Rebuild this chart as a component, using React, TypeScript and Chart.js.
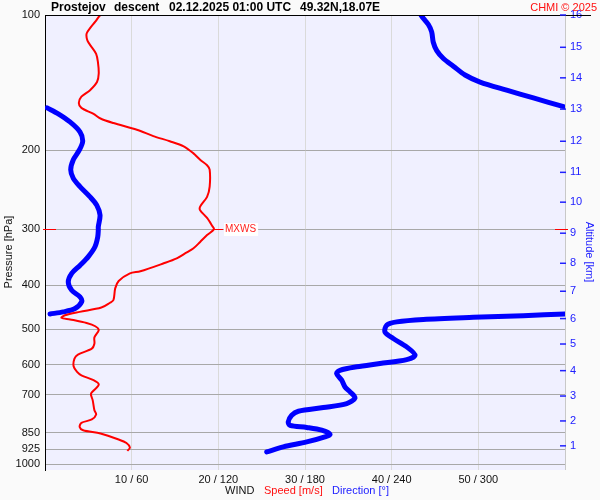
import { useEffect, useRef } from 'react';
import { Chart, registerables } from 'chart.js';

Chart.register(...registerables);

const FONT = 'Liberation Sans, Arial, sans-serif';

// Wind speed profile (m/s) vs pressure (hPa), bottom -> top
const speedPressure = [934, 918, 897, 881, 854, 840, 826, 809, 795, 775, 758, 720, 700, 692, 665, 650, 634, 623, 605, 582, 570, 553, 539, 522, 503, 493, 485, 476, 472, 466, 458, 448, 437, 431, 406, 391, 376, 372, 357, 348, 339, 331, 320, 309, 300, 295, 283, 272, 267, 254, 241, 221, 216, 210, 203, 196, 191, 186, 180, 174, 170, 166, 161, 157, 152, 147, 141, 135, 127, 122, 118, 114, 110, 107, 103.5, 101, 100];
const speedValues = [9.5, 9.8, 9.4, 8.5, 6.4, 4.4, 4.0, 4.2, 5.4, 5.9, 5.7, 5.5, 5.3, 5.4, 6.2, 5.6, 4.2, 3.7, 3.3, 3.4, 3.8, 5.4, 5.7, 5.7, 6.2, 5.8, 4.8, 2.9, 1.9, 2.3, 4.0, 6.5, 7.5, 7.9, 8.1, 8.5, 9.8, 11.0, 13.7, 15.2, 16.2, 17.1, 17.9, 18.7, 19.5, 19.3, 18.7, 17.9, 17.9, 18.7, 19.0, 19.0, 18.7, 17.9, 17.1, 16.0, 14.4, 12.5, 10.6, 7.9, 6.4, 5.6, 4.2, 3.9, 4.2, 5.2, 6.0, 6.2, 6.1, 5.9, 5.4, 4.9, 4.8, 5.2, 5.8, 6.2, 6.4];

// Wind direction (deg) vs pressure, split where it wraps around 360/0
const dirPressureLow = [939, 915, 892, 869, 858, 840, 828, 819, 805, 778, 762, 748, 733, 712, 690, 673, 650, 628, 618, 607, 597, 585, 572, 548, 525, 508, 490, 482, 476, 471, 467, 463];
const dirValuesLow = [153.5, 165.0, 181.2, 193.8, 197.3, 191.6, 181.2, 169.6, 168.4, 170.8, 175.4, 192.7, 208.9, 214.6, 211.2, 207.7, 205.4, 201.9, 204.2, 215.8, 231.9, 250.4, 256.2, 250.4, 241.1, 235.4, 236.6, 243.5, 261.9, 296.5, 331.1, 360];
const dirPressureMid = [463, 458, 450, 435, 424, 410, 393, 376, 361, 345, 328, 312, 301, 296, 279, 265, 254, 241, 231, 221, 210, 200, 191, 182, 173, 166, 161];
const dirValuesMid = [3.5, 12.7, 20.8, 25.4, 24.2, 18.5, 16.1, 18.5, 24.2, 30.0, 34.6, 36.5, 36.9, 36.9, 38.1, 35.8, 31.2, 24.2, 19.6, 17.8, 19.6, 23.7, 26.1, 24.2, 17.3, 9.2, 1.5];
const dirPressureHigh = [160, 153, 147, 141, 136, 130, 125, 120, 115, 109, 105, 101.7, 100];
const dirValuesHigh = [359, 338.1, 319.6, 301.2, 290.8, 282.7, 275.8, 271.2, 268.8, 267.7, 265.4, 261.9, 260.3];

// Axes
const pressureTicks = [100, 200, 300, 400, 500, 600, 700, 850, 925, 1000];
const speedTicks = [10, 20, 30, 40, 50];
const altitudeKm = [1, 2, 3, 4, 5, 6, 7, 8, 9, 10, 11, 12, 13, 14, 15, 16];
const altitudePressure = [910, 801, 705, 619, 540, 474, 412, 357, 306, 261, 224, 191, 162, 138, 118, 100];

const TITLE_PARTS = [
  { text: 'Prostejov', x: 51 },
  { text: 'descent', x: 114 },
  { text: '02.12.2025 01:00 UTC', x: 169 },
  { text: '49.32N,18.07E', x: 300 },
];

function zip(ps: number[], vs: number[]) {
  return ps.map((p, i) => ({ x: vs[i], y: p }));
}

const decorPlugin = {
  id: 'decor',
  beforeDraw(chart: any) {
    const { ctx, chartArea: a } = chart;
    ctx.save();
    ctx.fillStyle = '#fafafa';
    ctx.fillRect(0, 0, chart.width, chart.height);
    ctx.fillStyle = '#f0f0ff';
    ctx.fillRect(a.left, a.top, a.right - a.left, a.bottom - a.top);
    ctx.restore();
  },
  beforeDatasetsDraw(chart: any) {
    const { ctx, chartArea: a } = chart;
    ctx.save();
    ctx.strokeStyle = '#c8c8c8';
    ctx.lineWidth = 1;
    ctx.beginPath();
    ctx.moveTo(a.right + 0.5, a.top);
    ctx.lineTo(a.right + 0.5, a.bottom);
    ctx.stroke();
    ctx.restore();
  },
  afterDraw(chart: any) {
    const { ctx, chartArea: a } = chart;
    const ys = chart.scales.y;
    const xs = chart.scales.x;
    ctx.save();

    // top border line
    ctx.strokeStyle = '#000';
    ctx.lineWidth = 1;
    ctx.beginPath();
    ctx.moveTo(a.left, a.top + 0.5);
    ctx.lineTo(591, a.top + 0.5);
    ctx.stroke();

    // altitude tick marks
    ctx.strokeStyle = '#2020ff';
    ctx.lineWidth = 1.5;
    altitudePressure.forEach((p) => {
      const y = chart.scales.yAlt.getPixelForValue(p);
      ctx.beginPath();
      ctx.moveTo(a.right - 5, y);
      ctx.lineTo(a.right + 1, y);
      ctx.stroke();
    });

    // max wind marker
    let mi = 0;
    speedValues.forEach((v, i) => { if (v > speedValues[mi]) mi = i; });
    const my = Math.round(ys.getPixelForValue(speedPressure[mi])) + 0.5;
    const mx = xs.getPixelForValue(speedValues[mi]);
    ctx.strokeStyle = '#ff0000';
    ctx.lineWidth = 1;
    ctx.beginPath();
    ctx.moveTo(a.left - 2, my); ctx.lineTo(a.left + 11, my);
    ctx.moveTo(a.right - 10, my); ctx.lineTo(a.right + 3, my);
    ctx.moveTo(mx, my); ctx.lineTo(mx + 9, my);
    ctx.stroke();
    ctx.font = `10px ${FONT}`;
    ctx.textBaseline = 'middle';
    ctx.textAlign = 'left';
    const mw = ctx.measureText('MXWS').width;
    ctx.fillStyle = '#ffffff';
    ctx.fillRect(mx + 10, my - 6.5, mw + 3, 13);
    ctx.fillStyle = '#ff2020';
    ctx.fillText('MXWS', mx + 11, my);

    // title
    ctx.fillStyle = '#000';
    ctx.font = `bold 12px ${FONT}`;
    ctx.textBaseline = 'middle';
    TITLE_PARTS.forEach((t) => ctx.fillText(t.text, t.x, 7.5));
    ctx.fillStyle = '#ff1010';
    ctx.font = `11px ${FONT}`;
    ctx.textAlign = 'right';
    ctx.fillText('CHMI \u00a9 2025', 597, 7.5);

    // axis titles
    ctx.textAlign = 'center';
    ctx.fillStyle = '#111';
    ctx.save();
    ctx.translate(9, 252);
    ctx.rotate(-Math.PI / 2);
    ctx.fillText('Pressure [hPa]', 0, 0);
    ctx.restore();
    ctx.save();
    ctx.fillStyle = '#2020ff';
    ctx.translate(589, 252);
    ctx.rotate(Math.PI / 2);
    ctx.fillText('Altitude [km]', 0, 0);
    ctx.restore();

    // bottom legend
    ctx.textAlign = 'left';
    ctx.fillStyle = '#111';
    ctx.fillText('WIND', 225, 491);
    ctx.fillStyle = '#ff1010';
    ctx.fillText('Speed [m/s]', 264, 491);
    ctx.fillStyle = '#2020ff';
    ctx.fillText('Direction [\u00b0]', 332, 491);
    ctx.restore();
  },
};

export default function App() {
  const ref = useRef<HTMLCanvasElement | null>(null);
  useEffect(() => {
    if (!ref.current) return;
    const blue = '#0000ff';
    const dirStyle = {
      borderColor: blue,
      borderWidth: 5,
      pointRadius: 0,
      tension: 0.3,
      borderCapStyle: 'round',
      borderJoinStyle: 'round',
      xAxisID: 'xd',
      yAxisID: 'y',
      showLine: true,
    };
    const chart = new Chart(ref.current, {
      type: 'scatter',
      data: {
        datasets: [
          {
            label: 'Speed',
            data: zip(speedPressure, speedValues),
            borderColor: '#ff0000',
            borderWidth: 2,
            pointRadius: 0,
            tension: 0.3,
            showLine: true,
            xAxisID: 'x',
            yAxisID: 'y',
          } as any,
          { label: 'Direction', data: zip(dirPressureLow, dirValuesLow), ...dirStyle } as any,
          { label: 'Direction 2', data: zip(dirPressureMid, dirValuesMid), ...dirStyle } as any,
          { label: 'Direction 3', data: zip(dirPressureHigh, dirValuesHigh), ...dirStyle } as any,
        ],
      },
      options: {
        responsive: false,
        animation: false,
        layout: { padding: { top: 15, left: 0, right: 0, bottom: 0 } },
        plugins: { legend: { display: false }, tooltip: { enabled: false }, title: { display: false } },
        scales: {
          x: {
            type: 'linear',
            position: 'bottom',
            min: 0,
            max: 60,
            afterBuildTicks: (s: any) => { s.ticks = speedTicks.map((v) => ({ value: v })); },
            afterFit: (s: any) => { s.height = 30; },
            ticks: {
              callback: (v: any) => `${v} / ${Number(v) * 6}`,
              color: '#111',
              font: { size: 11, family: FONT },
              padding: 3,
              maxRotation: 0,
              autoSkip: false,
            },
            grid: { color: '#dadada', drawTicks: false, lineWidth: 1 },
            border: { display: false },
          },
          xd: { type: 'linear', min: 0, max: 360, display: false },
          y: {
            type: 'logarithmic',
            position: 'left',
            reverse: true,
            min: 100,
            max: 1030,
            afterBuildTicks: (s: any) => { s.ticks = pressureTicks.map((v) => ({ value: v })); },
            afterFit: (s: any) => { s.width = 45; },
            ticks: {
              callback: (v: any) => String(v),
              autoSkip: false,
              color: '#111',
              font: { size: 11, family: FONT },
              padding: 5,
            },
            grid: {
              color: (c: any) => (c.tick && c.tick.value === 100 ? 'rgba(0,0,0,0)' : '#a8a8a8'),
              drawTicks: false,
              lineWidth: 1,
            },
            border: { color: '#000', width: 1 },
          },
          yAlt: {
            type: 'logarithmic',
            position: 'right',
            reverse: true,
            min: 100,
            max: 1030,
            afterBuildTicks: (s: any) => { s.ticks = altitudePressure.map((v) => ({ value: v })); },
            afterFit: (s: any) => { s.width = 35; },
            ticks: {
              callback: (v: any) => String(altitudeKm[altitudePressure.indexOf(Number(v))]),
              autoSkip: false,
              color: '#2020ff',
              font: { size: 11, family: FONT },
              padding: 5,
            },
            grid: { display: false, drawTicks: false },
            border: { display: false },
          },
        },
      } as any,
      plugins: [decorPlugin],
    });
    return () => chart.destroy();
  }, []);
  return (
    <div style={{ position: 'fixed', left: 0, top: 0, width: 600, height: 500 }}>
      <canvas ref={ref} width={600} height={500} />
    </div>
  );
}
